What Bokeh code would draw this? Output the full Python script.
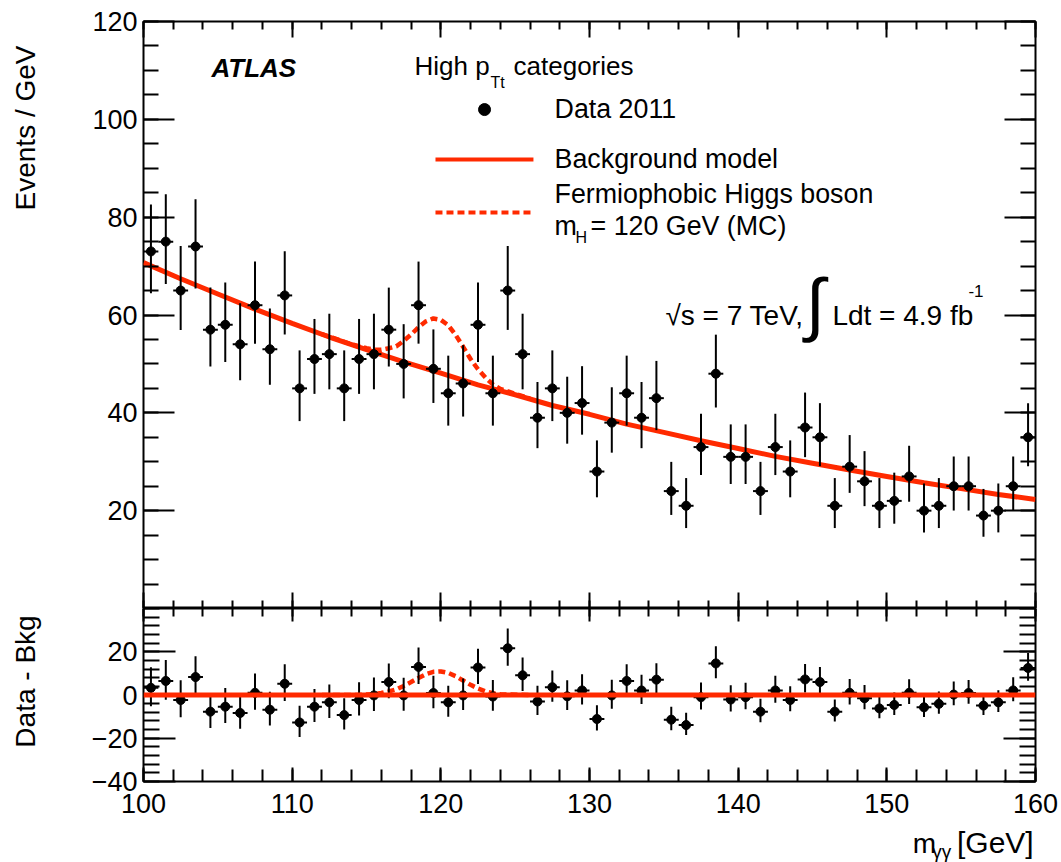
import numpy as np
from bokeh.embed import file_html
from bokeh.layouts import column, row
from bokeh.models import (Arrow, ColumnDataSource, FixedTicker, Label, LinearAxis,
                          Range1d, Span)
from bokeh.plotting import figure
from bokeh.resources import INLINE

# ---------------------------------------------------------------- data
# diphoton invariant mass spectrum, 1 GeV bins from 100 to 160 GeV
bin_low = 100.0
bin_width = 1.0
events = [73, 75, 65, 74, 57, 58, 54, 62, 53, 64,
          45, 51, 52, 45, 51, 52, 57, 50, 62, 49,
          44, 46, 58, 44, 65, 52, 39, 45, 40, 42,
          28, 38, 44, 39, 43, 24, 21, 33, 48, 31,
          31, 24, 33, 28, 37, 35, 21, 29, 26, 21,
          22, 27, 20, 21, 25, 25, 19, 20, 25, 35]

# data minus background model, per bin
residuals = [3.3, 6.5, -2.3, 8.3, -7.7, -5.4, -8.3, 1.0, -6.8, 5.2,
             -12.7, -5.4, -3.4, -9.3, -2.3, -0.2, 6.0, -0.2, 13.0, 0.9,
             -3.4, -0.2, 12.7, -0.7, 21.6, 9.1, -3.0, 3.6, -0.6, 2.1,
             -11.1, -0.2, 6.5, 2.1, 7.1, -11.4, -13.9, -1.0, 14.6, -2.1,
             -1.0, -7.7, 2.1, -2.3, 7.2, 6.0, -7.7, 1.0, -1.5, -6.2,
             -4.6, 1.0, -5.7, -4.1, 0.2, 0.9, -4.9, -3.4, 2.1, 12.5]

# background model curve
background_mass = [100.0, 102.5, 105.0, 107.5, 110.0, 112.5, 115.0, 117.5, 120.0,
                   122.5, 125.0, 127.5, 130.0, 132.5, 135.0, 137.5, 140.0, 142.5,
                   145.0, 147.5, 150.0, 152.5, 155.0, 157.5, 160.0]
background_events = [70.7, 67.4, 64.3, 61.2, 58.3, 55.5, 52.9, 50.4, 48.1,
                     45.7, 43.7, 41.5, 39.7, 37.7, 36.0, 34.3, 32.7, 31.1,
                     29.7, 28.3, 27.0, 25.7, 24.5, 23.3, 22.3]

# fermiophobic Higgs boson, m_H = 120 GeV (MC)
signal_mass = [112.0, 114.0, 115.0, 115.5, 116.0, 116.5, 117.0, 117.5, 118.0, 118.5,
               119.0, 119.5, 120.0, 120.5, 121.0, 121.5, 122.0, 122.5, 123.0, 123.5,
               124.0, 126.0]
signal_events = [0.0, 0.0, 0.2, 0.4, 0.9, 1.7, 2.6, 4.2, 6.0, 7.9,
                 9.6, 10.7, 10.9, 10.2, 8.7, 6.7, 4.7, 3.0, 1.7, 0.8,
                 0.3, 0.0]
signal_plus_background = [56.1, 54.0, 53.2, 52.9, 52.9, 53.2, 53.6, 54.7, 56.0, 57.5,
                          58.7, 59.3, 59.0, 57.9, 55.9, 53.5, 51.0, 48.9, 47.2, 45.8,
                          44.9, 42.9]

x_ticks = [100, 110, 120, 130, 140, 150, 160]
top_y_labels = [20, 40, 60, 80, 100, 120]
bottom_y_labels = [-40, -20, 0, 20]

# ---------------------------------------------------------------- derived
mass = bin_low + bin_width * (np.arange(len(events)) + 0.5)
counts = np.array(events, dtype=float)
# asymmetric Poisson (Gehrels) uncertainties
err_lo = np.sqrt(counts - 0.25)
err_hi = 1.0 + np.sqrt(counts + 0.75)
res = np.array(residuals)

top_src = ColumnDataSource(dict(
    x=mass, y=counts, lo=counts - err_lo, hi=counts + err_hi,
    left=mass - bin_width / 2, right=mass + bin_width / 2))
bot_src = ColumnDataSource(dict(
    x=mass, y=res, lo=res - err_lo, hi=res + err_hi,
    left=mass - bin_width / 2, right=mass + bin_width / 2))

# ---------------------------------------------------------------- style
FONT = "Liberation Sans"
RED = "#ff2a00"
PAGE_W, PAGE_H = 1061, 862
LEFT_STRIP = 50          # column holding the rotated y-axis titles
FRAME_LEFT = 143         # page x of the plot frames' left edge
FRAME_W = 892
MAIN_W = PAGE_W - LEFT_STRIP


def make_panel(y_range, frame_height, border_top, border_bottom):
    p = figure(frame_width=FRAME_W, frame_height=frame_height,
               x_range=Range1d(100, 160), y_range=y_range,
               output_backend="svg", toolbar_location=None,
               x_axis_location=None, y_axis_location=None,
               min_border_left=FRAME_LEFT - LEFT_STRIP,
               min_border_right=PAGE_W - FRAME_LEFT - FRAME_W,
               min_border_top=border_top, min_border_bottom=border_bottom)
    p.grid.visible = False
    p.outline_line_color = "black"
    p.outline_line_width = 2
    p.background_fill_color = "white"
    p.border_fill_color = "white"
    return p


def text_strip(width, height, x0, y_top):
    # bare canvas whose data coordinates are page pixels (y grows downwards)
    s = figure(width=width, height=height,
               x_range=Range1d(x0, x0 + width), y_range=Range1d(y_top + height, y_top),
               output_backend="svg", toolbar_location=None,
               x_axis_location=None, y_axis_location=None,
               min_border=0, outline_line_color=None)
    s.grid.visible = False
    return s


def add_axis(p, side, ticker, tick_in, minor_in, labels=False, standoff=6):
    ax = LinearAxis(ticker=ticker)
    ax.axis_line_color = None
    ax.major_tick_in = tick_in
    ax.major_tick_out = 0
    ax.minor_tick_in = minor_in
    ax.minor_tick_out = 0
    ax.major_tick_line_color = "black"
    ax.minor_tick_line_color = "black"
    ax.major_tick_line_width = 2
    ax.minor_tick_line_width = 2
    if labels:
        ax.major_label_text_font = FONT
        ax.major_label_text_font_size = "27px"
        ax.major_label_text_color = "black"
        ax.major_label_standoff = standoff
    else:
        ax.major_label_text_font_size = "0px"
        ax.major_label_text_color = None
        ax.major_label_standoff = 0
    p.add_layout(ax, side)
    return ax


def text(p, x, y, s, size=26, angle=0.0, **kw):
    # (x, y) is the start of the text baseline; the offset lifts Bokeh's
    # alphabetic anchor onto it, along the text's own up direction
    lift = 0.37 * size
    lab = Label(x=x, y=y, text=s, text_font=FONT, text_font_size=f"{size}px",
                text_color="black", text_baseline="alphabetic", angle=angle,
                x_offset=-lift * np.sin(angle), y_offset=lift * np.cos(angle), **kw)
    p.add_layout(lab)
    return lab


x_ticker = FixedTicker(ticks=x_ticks, minor_ticks=list(range(100, 161, 2)))

# ---------------------------------------------------------------- upper panel
top = make_panel(Range1d(0, 120), 587, 21, 0)
top_ticker = FixedTicker(ticks=top_y_labels, minor_ticks=list(range(0, 121, 5)))
add_axis(top, "left", top_ticker, 31, 15, labels=True)
add_axis(top, "right", top_ticker, 31, 15)
add_axis(top, "above", x_ticker, 16, 8)
add_axis(top, "below", x_ticker, 16, 8)

top.line(background_mass, background_events, line_color=RED, line_width=5)
top.line(signal_mass, signal_plus_background, line_color=RED, line_width=4.5, line_dash="7 4")
top.segment("x", "lo", "x", "hi", source=top_src, line_color="black", line_width=2)
top.segment("left", "y", "right", "y", source=top_src, line_color="black", line_width=2)
top.scatter("x", "y", source=top_src, size=9, color="black")

# titles and legend
text(top, 104.57, 108.6, "ATLAS", text_font_style="bold italic")
text(top, 118.23, 108.96, "High p")
text(top, 123.34, 106.3, "Tt", size=16)
text(top, 124.89, 108.96, "categories")

top.scatter([122.94], [102.0], size=12, color="black")
text(top, 127.65, 100.17, "Data 2011", size=26.8)
top.add_layout(Arrow(x_start=119.64, y_start=91.79, x_end=126.23, y_end=91.79,
                     start=None, end=None, line_color=RED, line_width=4))
text(top, 127.65, 89.95, "Background model", size=26.8)
top.add_layout(Arrow(x_start=119.64, y_start=80.95, x_end=126.23, y_end=80.95,
                     start=None, end=None, line_color=RED, line_width=4, line_dash="7 4"))
text(top, 127.65, 82.79, "Fermiophobic Higgs boson", size=26.8)
text(top, 127.65, 76.25, "m", size=26.8)
text(top, 129.06, 74.62, "H", size=16)
text(top, 130.07, 76.25, "= 120 GeV (MC)", size=26.8)

text(top, 135.11, 57.85, "\u221as = 7 TeV,", size=28)
integral = Label(x=145.17, y=62.2, text="\u222b", text_font=FONT, text_font_size="70px",
                 text_color="black", text_align="center", text_baseline="middle")
top.add_layout(integral)
text(top, 146.34, 57.85, "Ldt = 4.9 fb", size=28)
text(top, 155.49, 63.58, "-1", size=17)

# ---------------------------------------------------------------- lower panel
bot = make_panel(Range1d(-40, 40), 173, 0, 46)
bot_ticker = FixedTicker(ticks=bottom_y_labels, minor_ticks=list(range(-40, 41, 4)))
add_axis(bot, "left", bot_ticker, 32, 16, labels=True)
add_axis(bot, "right", bot_ticker, 32, 16)
add_axis(bot, "above", x_ticker, 13, 8)
add_axis(bot, "below", x_ticker, 14, 12, labels=True, standoff=12)

bot.add_layout(Span(location=0, dimension="width", line_color=RED, line_width=5))
bot.line(signal_mass, signal_events, line_color=RED, line_width=4.5, line_dash="7 4")
bot.segment("x", "lo", "x", "hi", source=bot_src, line_color="black", line_width=2)
bot.segment("left", "y", "right", "y", source=bot_src, line_color="black", line_width=2)
bot.scatter("x", "y", source=bot_src, size=9, color="black")

# ---------------------------------------------------------------- axis titles
strip_top = 608 + 173 + 46
x_title = text_strip(MAIN_W, PAGE_H - strip_top, LEFT_STRIP, strip_top)
text(x_title, 922, 853, "m", size=28)
text(x_title, 944, 858, "\u03b3\u03b3", size=19)
text(x_title, 972, 853, "[GeV]", size=30)

y_titles = text_strip(LEFT_STRIP, PAGE_H, 0, 0)
text(y_titles, 35, 45, "Events / GeV", size=28, angle=np.pi / 2, text_align="right")
text(y_titles, 35, 681, "Data - Bkg", size=28, angle=np.pi / 2, text_align="center")

layout = row(y_titles, column(top, bot, x_title, spacing=0), spacing=0)
open("out.html", "w").write(file_html(layout, INLINE))
